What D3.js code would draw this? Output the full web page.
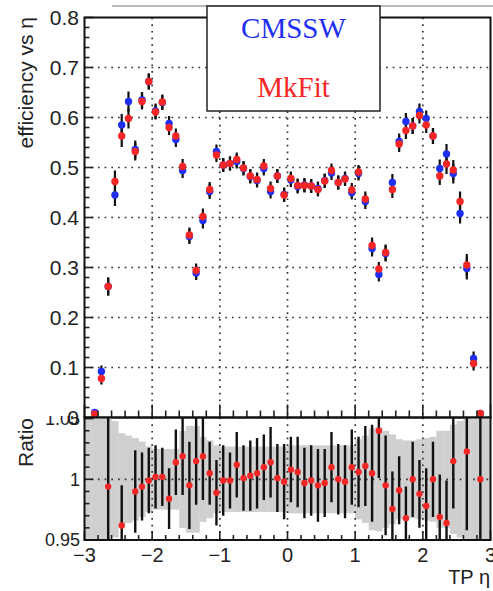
<!DOCTYPE html>
<html>
<head>
<meta charset="utf-8">
<script src="https://cdn.jsdelivr.net/npm/d3@7"></script>
<style>
  html, body { margin: 0; padding: 0; background: #fff; }
  svg { display: block; }
  text { font-family: "Liberation Sans", Arial, sans-serif; fill: #222; }
</style>
</head>
<body>
<svg id="chart" width="493" height="591"></svg>
<script>
// eta bin centres (0.1 wide bins from -3 to 3)
const etaBins = [-2.95,-2.85,-2.75,-2.65,-2.55,-2.45,-2.35,-2.25,-2.15,-2.05,
  -1.95,-1.85,-1.75,-1.65,-1.55,-1.45,-1.35,-1.25,-1.15,-1.05,
  -0.95,-0.85,-0.75,-0.65,-0.55,-0.45,-0.35,-0.25,-0.15,-0.05,
  0.05,0.15,0.25,0.35,0.45,0.55,0.65,0.75,0.85,0.95,
  1.05,1.15,1.25,1.35,1.45,1.55,1.65,1.75,1.85,1.95,
  2.05,2.15,2.25,2.35,2.45,2.55,2.65,2.75,2.85,2.95];

// efficiency per bin
const effCMSSW = [null,0.010,0.092,0.262,0.445,0.585,0.632,0.536,0.635,0.672,
  0.613,0.630,0.588,0.556,0.494,0.362,0.289,0.394,0.452,0.532,
  0.505,0.508,0.512,0.498,0.482,0.474,0.498,0.452,0.483,0.446,
  0.475,0.462,0.465,0.463,0.458,0.474,0.489,0.470,0.478,0.450,
  0.488,0.432,0.338,0.286,0.328,0.470,0.552,0.592,0.583,0.612,
  0.598,0.563,0.498,0.527,0.488,0.408,0.298,0.118,0.008,null];

const effMkFit = [null,0.007,0.078,0.262,0.472,0.563,0.598,0.532,0.632,0.672,
  0.611,0.631,0.580,0.563,0.502,0.365,0.294,0.402,0.456,0.525,
  0.505,0.508,0.516,0.499,0.483,0.476,0.503,0.458,0.483,0.445,
  0.478,0.464,0.464,0.463,0.456,0.473,0.494,0.470,0.477,0.455,
  0.491,0.437,0.344,0.297,0.330,0.456,0.547,0.574,0.583,0.604,
  0.585,0.563,0.483,0.507,0.495,0.432,0.305,0.108,0.008,null];

// statistical uncertainty on the efficiency
const effErr = [null,0.006,0.012,0.018,0.022,0.022,0.020,0.018,0.016,0.016,
  0.015,0.015,0.015,0.015,0.015,0.015,0.014,0.016,0.015,0.014,
  0.014,0.014,0.014,0.014,0.014,0.014,0.014,0.014,0.014,0.014,
  0.014,0.014,0.014,0.014,0.014,0.014,0.014,0.014,0.014,0.014,
  0.014,0.015,0.016,0.014,0.016,0.017,0.016,0.017,0.016,0.016,
  0.016,0.016,0.018,0.020,0.020,0.020,0.022,0.014,0.006,null];

// MkFit / CMSSW ratio (null where it falls outside the panel)
const ratio = [null,null,null,0.994,null,0.962,null,0.990,0.994,0.999,
  1.002,1.002,0.984,1.014,1.019,0.995,1.015,1.019,1.005,0.989,
  0.999,0.999,1.012,1.001,1.003,1.005,1.010,1.014,1.001,0.998,
  1.008,1.006,0.997,0.999,0.995,0.997,1.010,1.000,0.998,1.010,
  1.006,1.011,1.005,1.040,0.995,0.9755,0.991,0.968,1.000,0.988,
  0.978,1.000,0.969,0.964,1.015,null,1.023,null,1.000,null];

const ratioErr = [null,null,null,0.070,null,0.033,null,0.034,0.028,0.027,
  0.026,0.024,0.025,0.027,0.032,0.036,0.036,0.036,0.026,0.027,
  0.029,0.023,0.027,0.027,0.029,0.029,0.027,0.029,0.028,0.031,
  0.027,0.029,0.029,0.029,0.030,0.028,0.029,0.029,0.030,0.031,
  0.029,0.033,0.040,0.039,0.041,0.031,0.028,0.026,0.031,0.028,
  0.031,0.031,0.035,0.035,0.039,null,0.065,null,0.080,null];

// reference (CMSSW) relative uncertainty band around 1
const bandHalf = [0.08,0.08,0.08,0.06,0.048,0.038,0.036,0.034,0.031,0.027,
  0.025,0.025,0.025,0.025,0.040,0.044,0.044,0.035,0.032,0.028,
  0.027,0.027,0.027,0.027,0.027,0.027,0.027,0.027,0.027,0.027,
  0.028,0.028,0.028,0.028,0.028,0.028,0.028,0.028,0.028,0.028,
  0.033,0.036,0.042,0.043,0.040,0.037,0.033,0.032,0.032,0.033,
  0.034,0.035,0.040,0.040,0.045,0.048,0.050,0.070,0.080,0.080];

const xTicks = [-3,-2,-1,0,1,2,3];
const effTicks = [0,0.1,0.2,0.3,0.4,0.5,0.6,0.7,0.8];
const ratioTicks = [0.95,1,1.05];
const legendLabels = ["CMSSW","MkFit"];

const BLUE = "#1f2ff2", RED = "#f42626";
const binW = 0.1;

const svg = d3.select("#chart");

const x = d3.scaleLinear().domain([-3,3]).range([84.5,490.5]);
const yTop = d3.scaleLinear().domain([0,0.8]).range([417.5,17.5]);
const yRat = d3.scaleLinear().domain([0.95,1.05]).range([540,418.6]);
const topBox = {y0:17.5, y1:417.5};
const ratBox = {y0:417.5, y1:540};

const fmtMinus = s => String(s).replace("-","\u2212");

// clip paths
const defs = svg.append("defs");
defs.append("clipPath").attr("id","clipTop").append("rect")
  .attr("x",x(-3)).attr("y",topBox.y0).attr("width",x(3)-x(-3)).attr("height",topBox.y1-topBox.y0);
defs.append("clipPath").attr("id","clipRat").append("rect")
  .attr("x",x(-3)).attr("y",ratBox.y0).attr("width",x(3)-x(-3)).attr("height",ratBox.y1-ratBox.y0);
defs.append("clipPath").attr("id","clipRatLabel").append("rect")
  .attr("x",0).attr("y",416).attr("width",120).attr("height",200);

const dotted = sel => sel.attr("stroke","#333").attr("stroke-width",1.7).attr("stroke-dasharray","1.7 5");

// thin line across the top of the canvas
svg.append("line").attr("x1",112).attr("x2",493).attr("y1",6).attr("y2",6)
  .attr("stroke","#777").attr("stroke-width",1.2);

// ---------- top panel ----------
const gTop = svg.append("g");
const gridTop = gTop.append("g");
xTicks.filter(t => t > -3 && t < 3).forEach(t => {
  gridTop.append("line").attr("x1",x(t)).attr("x2",x(t)).attr("y1",topBox.y0).attr("y2",topBox.y1).call(dotted);
});
effTicks.filter(t => t > 0 && t < 0.8).forEach(t => {
  gridTop.append("line").attr("x1",x(-3)).attr("x2",x(3)).attr("y1",yTop(t)).attr("y2",yTop(t)).call(dotted);
});

const pts = etaBins.map((e,i) => ({eta:e, cm:effCMSSW[i], mk:effMkFit[i], err:effErr[i]}))
  .filter(d => d.cm !== null);

const dataTop = gTop.append("g").attr("clip-path","url(#clipTop)");
// error bars
["cm","mk"].forEach(k => {
  dataTop.append("g").selectAll("line").data(pts).join("line")
    .attr("x1",d => x(d.eta)).attr("x2",d => x(d.eta))
    .attr("y1",d => yTop(d[k]+d.err)).attr("y2",d => yTop(Math.max(0,d[k]-d.err)))
    .attr("stroke","#111").attr("stroke-width",2.2);
});
dataTop.append("g").selectAll("circle").data(pts).join("circle")
  .attr("cx",d => x(d.eta)).attr("cy",d => yTop(d.cm)).attr("r",3.7).attr("fill",BLUE);
dataTop.append("g").selectAll("circle").data(pts).join("circle")
  .attr("cx",d => x(d.eta)).attr("cy",d => yTop(d.mk)).attr("r",3.7).attr("fill",RED);

// top-panel axes
const axTop = gTop.append("g");
d3.range(0,0.8001,0.02).forEach(v => {
  const major = effTicks.some(t => Math.abs(t-v) < 1e-6);
  axTop.append("line").attr("x1",x(-3)).attr("x2",x(-3)+(major?9:5))
    .attr("y1",yTop(v)).attr("y2",yTop(v)).attr("stroke","#222").attr("stroke-width",1.6);
});
d3.range(-3,3.0001,0.2).forEach(v => {
  const major = Math.abs(v-Math.round(v)) < 1e-6;
  axTop.append("line").attr("x1",x(v)).attr("x2",x(v))
    .attr("y1",topBox.y1).attr("y2",topBox.y1-(major?13:7)).attr("stroke","#222").attr("stroke-width",1.6);
});
axTop.append("rect").attr("x",x(-3)).attr("y",topBox.y0).attr("width",x(3)-x(-3)).attr("height",topBox.y1-topBox.y0)
  .attr("fill","none").attr("stroke","#111").attr("stroke-width",2);

// ---------- ratio panel ----------
const gRat = svg.append("g");
const ratData = gRat.append("g").attr("clip-path","url(#clipRat)");
ratData.append("g").selectAll("rect").data(etaBins.map((e,i)=>({eta:e,h:bandHalf[i]}))).join("rect")
  .attr("x",d => x(d.eta-binW/2)).attr("width",d => x(d.eta+binW/2)-x(d.eta-binW/2)+0.3)
  .attr("y",d => yRat(1+d.h)).attr("height",d => yRat(1-d.h)-yRat(1+d.h))
  .attr("fill","#cfcfcf");
xTicks.filter(t => t > -3 && t < 3).forEach(t => {
  ratData.append("line").attr("x1",x(t)).attr("x2",x(t)).attr("y1",ratBox.y0).attr("y2",ratBox.y1).call(dotted);
});
ratData.append("line").attr("x1",x(-3)).attr("x2",x(3)).attr("y1",yRat(1)).attr("y2",yRat(1)).call(dotted);

const rpts = etaBins.map((e,i)=>({eta:e, r:ratio[i], err:ratioErr[i]})).filter(d => d.r !== null);
ratData.append("g").selectAll("line").data(rpts).join("line")
  .attr("x1",d => x(d.eta)).attr("x2",d => x(d.eta))
  .attr("y1",d => yRat(d.r+d.err)).attr("y2",d => yRat(d.r-d.err))
  .attr("stroke","#111").attr("stroke-width",2.4);
ratData.append("g").selectAll("circle").data(rpts).join("circle")
  .attr("cx",d => x(d.eta)).attr("cy",d => yRat(d.r)).attr("r",3.2).attr("fill",RED);

const axRat = gRat.append("g");
d3.range(0.95,1.0501,0.01).forEach(v => {
  const major = ratioTicks.some(t => Math.abs(t-v) < 1e-6);
  axRat.append("line").attr("x1",x(-3)).attr("x2",x(-3)+(major?9:5))
    .attr("y1",yRat(v)).attr("y2",yRat(v)).attr("stroke","#222").attr("stroke-width",1.6);
});
d3.range(-3,3.0001,0.2).forEach(v => {
  const major = Math.abs(v-Math.round(v)) < 1e-6;
  axRat.append("line").attr("x1",x(v)).attr("x2",x(v))
    .attr("y1",ratBox.y1).attr("y2",ratBox.y1-(major?9:5)).attr("stroke","#222").attr("stroke-width",1.6);
});
axRat.append("rect").attr("x",x(-3)).attr("y",ratBox.y0).attr("width",x(3)-x(-3)).attr("height",ratBox.y1-ratBox.y0)
  .attr("fill","none").attr("stroke","#111").attr("stroke-width",2);

// ---------- labels ----------
const lab = svg.append("g");
// ratio labels (the top one is cut by the panel edge)
ratioTicks.forEach(t => {
  const txt = lab.append("text").attr("x",80).attr("y",yRat(t)).attr("dy","0.36em")
    .attr("text-anchor","end").attr("font-size",18).text(t === 1 ? "1" : t.toFixed(2));
  if (t === 1.05) txt.attr("clip-path","url(#clipRatLabel)");
});
effTicks.forEach(t => {
  lab.append("text").attr("x",79).attr("y",yTop(t)).attr("dy","0.36em")
    .attr("text-anchor","end").attr("font-size",21).text(t === 0 ? "0" : t.toFixed(1));
});
xTicks.forEach(t => {
  lab.append("text").attr("x",x(t)).attr("y",562).attr("text-anchor","middle")
    .attr("font-size",20).text(fmtMinus(t));
});
lab.append("text").attr("x",490).attr("y",584).attr("text-anchor","end").attr("font-size",20).text("TP \u03b7");
lab.append("text").attr("transform","translate(33,17) rotate(-90)").attr("text-anchor","end")
  .attr("font-size",21).text("efficiency vs \u03b7");
lab.append("text").attr("transform","translate(33,418) rotate(-90)").attr("text-anchor","end")
  .attr("font-size",21).text("Ratio");

// ---------- legend ----------
const leg = svg.append("g");
leg.append("rect").attr("x",207).attr("y",6).attr("width",173).attr("height",105)
  .attr("fill","#fff").attr("stroke","#222").attr("stroke-width",1.5);
[BLUE, RED].forEach((c,i) => {
  leg.append("text").attr("x",293.5).attr("y",i === 0 ? 38 : 97).attr("text-anchor","middle")
    .style("font-family","'Liberation Serif','Times New Roman',serif").attr("font-size",29)
    .style("fill",c).text(legendLabels[i]);
});
</script>
</body>
</html>
